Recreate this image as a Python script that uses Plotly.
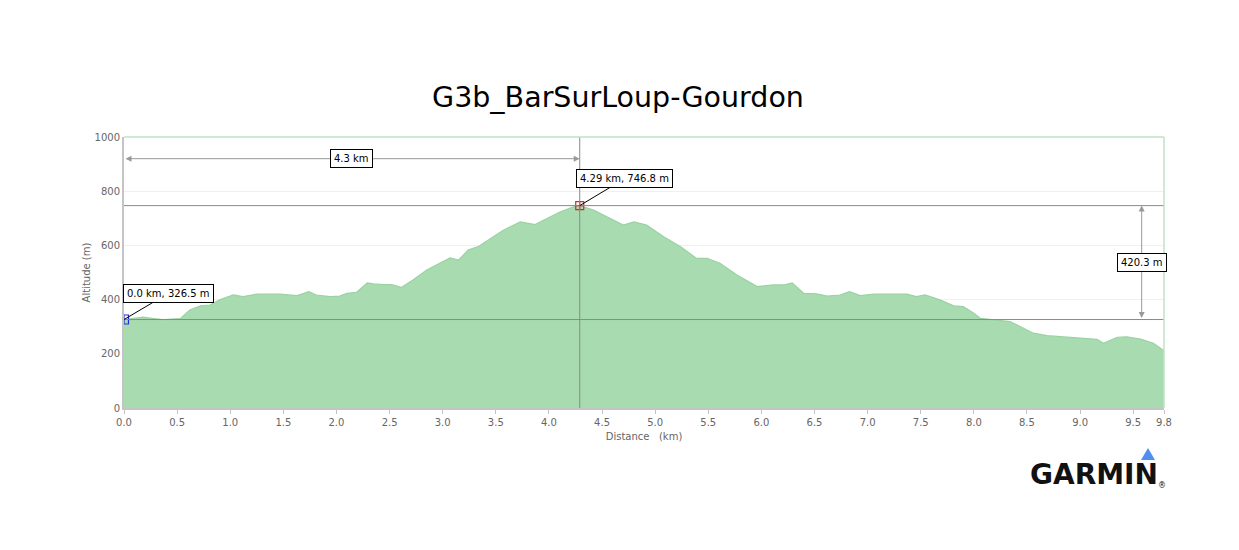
import plotly.graph_objects as go

# ---- data ----
distance_km = [0.00, 0.18, 0.28, 0.37, 0.53, 0.62, 0.72, 0.81, 0.90, 1.03, 1.12, 1.25, 1.47, 1.53,
               1.63, 1.74, 1.81, 1.94, 2.03, 2.10, 2.19, 2.29, 2.35, 2.44, 2.52, 2.61, 2.72, 2.85,
               2.98, 3.07, 3.15, 3.24, 3.34, 3.48, 3.57, 3.73, 3.87, 4.01, 4.11, 4.23, 4.29, 4.42,
               4.58, 4.70, 4.80, 4.92, 5.08, 5.24, 5.39, 5.49, 5.61, 5.77, 5.96, 6.11, 6.21, 6.29,
               6.40, 6.52, 6.62, 6.74, 6.83, 6.93, 7.06, 7.24, 7.37, 7.46, 7.54, 7.68, 7.81, 7.90,
               8.00, 8.06, 8.22, 8.34, 8.44, 8.56, 8.69, 8.88, 9.10, 9.16, 9.22, 9.35, 9.44, 9.57,
               9.69, 9.79]
altitude_m = [326.5, 335, 330, 326, 330, 362, 377, 380, 399, 417, 411, 420, 420, 418,
              415, 429, 417, 411, 413, 423, 427, 462, 458, 455, 455, 445, 472, 509,
              536, 554, 546, 583, 597, 632, 656, 687, 677, 705, 724, 742, 746.8, 730,
              700, 675, 687, 675, 632, 595, 552, 552, 534, 491, 448, 454, 454, 462,
              423, 421, 413, 417, 429, 415, 420, 421, 420, 411, 417, 399, 377, 374,
              350, 331, 325, 319, 300, 276, 267, 261, 256, 253, 239, 261, 263, 254,
              239, 211]

start_dist, start_alt = 0.0, 326.5
peak_dist, peak_alt = 4.29, 746.8
span_label = "4.3 km"
climb_label = "420.3 m"
span_arrow_alt = 920
climb_arrow_dist = 9.58

x_tickvals = [0, 0.5, 1, 1.5, 2, 2.5, 3, 3.5, 4, 4.5, 5, 5.5, 6, 6.5, 7, 7.5, 8, 8.5, 9, 9.5, 9.79]
x_ticktext = ["0.0", "0.5", "1.0", "1.5", "2.0", "2.5", "3.0", "3.5", "4.0", "4.5", "5.0", "5.5",
              "6.0", "6.5", "7.0", "7.5", "8.0", "8.5", "9.0", "9.5", "9.8"]
y_tickvals = [0, 200, 400, 600, 800, 1000]

FONT = "DejaVu Sans"
GRAY = "#666666"
W, H = 1231, 542  # page body has an 8px margin

fig = go.Figure()
fig.add_trace(go.Scatter(
    x=distance_km, y=altitude_m, mode="lines", fill="tozeroy",
    fillcolor="#a8dbb0", line=dict(color="#9bd2a3", width=1.2), hoverinfo="skip",
    showlegend=False))

# reference lines
for yv in (start_alt, peak_alt):
    fig.add_shape(type="line", xref="paper", x0=0, x1=1, yref="y", y0=yv, y1=yv,
                  line=dict(color="#8a8a8a", width=1))
fig.add_shape(type="line", xref="x", x0=peak_dist, x1=peak_dist, yref="paper", y0=0, y1=1,
              line=dict(color="#8a8a8a", width=1))
# frame top/right
fig.add_shape(type="line", xref="paper", x0=0, x1=1, yref="paper", y0=1, y1=1,
              line=dict(color="#bfe3c3", width=1.5))
fig.add_shape(type="line", xref="paper", x0=1, x1=1, yref="paper", y0=0, y1=1,
              line=dict(color="#bfe3c3", width=1.5))

# markers
fig.add_trace(go.Scatter(x=[start_dist], y=[start_alt], mode="markers", showlegend=False,
                         marker=dict(symbol="square-cross-open", size=9, color="#2a2ae0",
                                     line=dict(width=1.2))))
fig.add_trace(go.Scatter(x=[peak_dist], y=[peak_alt], mode="markers", showlegend=False,
                         marker=dict(symbol="square-cross-open", size=8, color="#d02a2a",
                                     line=dict(width=1.2))))

lab_font = dict(family=FONT, size=10, color="#000000")
# callout labels
fig.add_annotation(x=start_dist, y=start_alt, xref="x", yref="y",
                   text=f"{start_dist:.1f} km, {start_alt:.1f} m", showarrow=True,
                   arrowhead=0, arrowwidth=1, arrowcolor="#000000", ax=44, ay=-26,
                   bgcolor="white", bordercolor="#000000", borderwidth=1, borderpad=3,
                   font=lab_font)
fig.add_annotation(x=peak_dist, y=peak_alt, xref="x", yref="y",
                   text=f"{peak_dist:.2f} km, {peak_alt:.1f} m", showarrow=True,
                   arrowhead=0, arrowwidth=1, arrowcolor="#000000", ax=45, ay=-27,
                   bgcolor="white", bordercolor="#000000", borderwidth=1, borderpad=3,
                   font=lab_font)

# distance arrow
fig.add_annotation(x=peak_dist, y=span_arrow_alt, ax=start_dist, ay=span_arrow_alt,
                   xref="x", yref="y", axref="x", ayref="y", text="", showarrow=True,
                   arrowhead=2, arrowside="end+start", arrowsize=1.2, arrowwidth=1,
                   arrowcolor="#999999", standoff=0, startstandoff=0)
fig.add_annotation(x=(start_dist + peak_dist) / 2, y=span_arrow_alt, xref="x", yref="y",
                   text=span_label, showarrow=False, bgcolor="white", bordercolor="#000000",
                   borderwidth=1, borderpad=3, font=lab_font)
# climb arrow
fig.add_annotation(x=climb_arrow_dist, y=peak_alt, ax=climb_arrow_dist, ay=start_alt,
                   xref="x", yref="y", axref="x", ayref="y", text="", showarrow=True,
                   arrowhead=2, arrowside="end+start", arrowsize=1.2, arrowwidth=1,
                   arrowcolor="#999999", standoff=0, startstandoff=0)
fig.add_annotation(x=climb_arrow_dist, y=(start_alt + peak_alt) / 2, xref="x", yref="y",
                   text=climb_label, showarrow=False, bgcolor="white", bordercolor="#000000",
                   borderwidth=1, borderpad=3, font=lab_font)

# Garmin logo (decoration)
fig.add_annotation(xref="paper", yref="paper", x=0.9327, y=-0.247, xanchor="center",
                   yanchor="middle", text="<b>GARMIN</b>", showarrow=False,
                   font=dict(family=FONT, size=28, color="#111111"))
fig.add_shape(type="path", xref="paper", yref="paper",
              path="M 0.98462 -0.1476 L 0.99135 -0.1919 L 0.97788 -0.1919 Z",
              fillcolor="#4f8ff0", line=dict(width=0))
fig.add_annotation(xref="paper", yref="paper", x=0.9985, y=-0.285, xanchor="center",
                   yanchor="middle", text="®", showarrow=False,
                   font=dict(family=FONT, size=8, color="#111111"))

fig.update_layout(
    width=W, height=H,
    margin=dict(l=116, r=75, t=129, b=142),
    paper_bgcolor="white", plot_bgcolor="white",
    title=dict(text="G3b_BarSurLoup-Gourdon", x=(618 - 8) / W, xref="container",
               xanchor="center", y=1 - (97 - 8) / H, yref="container", yanchor="middle",
               font=dict(family=FONT, size=28.5, color="#000000")),
    xaxis=dict(range=[0, 9.79], tickvals=x_tickvals, ticktext=x_ticktext,
               showgrid=False, zeroline=False, showline=True, linecolor="#c4c4c4",
               linewidth=1.5, ticks="outside", ticklen=4, tickcolor="#c4c4c4",
               tickfont=dict(family=FONT, size=10, color=GRAY),
               title=dict(text="Distance\u00a0\u00a0\u00a0(km)", standoff=6,
                          font=dict(family=FONT, size=10, color=GRAY))),
    yaxis=dict(range=[0, 1000], tickvals=y_tickvals, showgrid=True, gridcolor="#f0f0f0",
               zeroline=False, showline=True, linecolor="#c4c4c4", linewidth=2,
               ticks="", tickfont=dict(family=FONT, size=10, color=GRAY),
               title=dict(text="Altitude (m)", standoff=2,
                          font=dict(family=FONT, size=10, color=GRAY))),
)

fig.write_html("out.html")
